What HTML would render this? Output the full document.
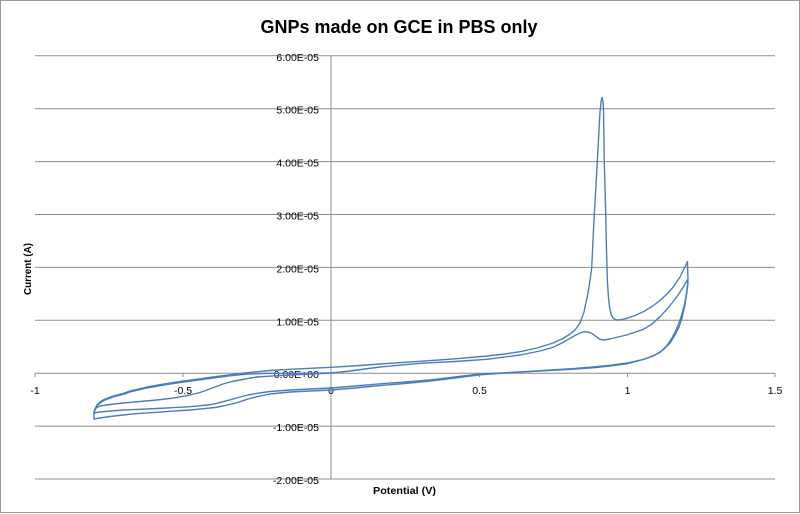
<!DOCTYPE html>
<html>
<head>
<meta charset="utf-8">
<style>
html,body{margin:0;padding:0;background:#fff;}
svg{display:block;}
text{font-family:"Liberation Sans",Arial,sans-serif;fill:#000;}
</style>
</head>
<body>
<svg width="800" height="514" viewBox="0 0 800 514" xmlns="http://www.w3.org/2000/svg">
<rect x="0" y="0" width="800" height="514" fill="#fff"/>
<rect x="0.5" y="0.5" width="799" height="512" fill="none" stroke="#9a9a9a" stroke-width="1"/>

<!-- title -->
<text x="399" y="33" font-size="18.5" font-weight="bold" text-anchor="middle" textLength="277" lengthAdjust="spacingAndGlyphs">GNPs made on GCE in PBS only</text>

<!-- gridlines -->
<g stroke="#8c8c8c" stroke-width="1">
<line x1="35" y1="55.8" x2="775" y2="55.8"/>
<line x1="35" y1="108.7" x2="775" y2="108.7"/>
<line x1="35" y1="161.6" x2="775" y2="161.6"/>
<line x1="35" y1="214.5" x2="775" y2="214.5"/>
<line x1="35" y1="267.4" x2="775" y2="267.4"/>
<line x1="35" y1="320.3" x2="775" y2="320.3"/>
<line x1="35" y1="373.2" x2="775" y2="373.2"/>
<line x1="35" y1="426.1" x2="775" y2="426.1"/>
<line x1="35" y1="479.0" x2="775" y2="479.0"/>
<!-- y axis -->
<line x1="331" y1="55.8" x2="331" y2="479"/>
<!-- x ticks -->
<line x1="35" y1="373.2" x2="35" y2="377"/>
<line x1="183" y1="373.2" x2="183" y2="377"/>
<line x1="331" y1="373.2" x2="331" y2="377"/>
<line x1="479.5" y1="373.2" x2="479.5" y2="377"/>
<line x1="627.5" y1="373.2" x2="627.5" y2="377"/>
<line x1="775" y1="373.2" x2="775" y2="377"/>
</g>

<!-- y tick labels -->
<g font-size="10.5" text-anchor="end">
<text x="319" y="60.8">6.00E-05</text>
<text x="319" y="113.7">5.00E-05</text>
<text x="319" y="166.6">4.00E-05</text>
<text x="319" y="219.5">3.00E-05</text>
<text x="319" y="272.4">2.00E-05</text>
<text x="319" y="325.3">1.00E-05</text>
<text x="319" y="378.2">0.00E+00</text>
<text x="319" y="431.1">-1.00E-05</text>
<text x="319" y="484.0">-2.00E-05</text>
</g>

<!-- x tick labels -->
<g font-size="10.5" text-anchor="middle">
<text x="35" y="394">-1</text>
<text x="183" y="394">-0.5</text>
<text x="331" y="394">0</text>
<text x="479.5" y="394">0.5</text>
<text x="627.5" y="394">1</text>
<text x="775" y="394">1.5</text>
</g>

<!-- axis titles -->
<text x="404.5" y="494" font-size="10.5" font-weight="bold" text-anchor="middle" textLength="63" lengthAdjust="spacingAndGlyphs">Potential (V)</text>
<text transform="translate(31,269) rotate(-90)" x="0" y="0" font-size="10.5" font-weight="bold" text-anchor="middle" textLength="52" lengthAdjust="spacingAndGlyphs">Current (A)</text>

<!-- series -->
<g fill="none" stroke="#4a7ebb" stroke-width="1.4" stroke-linejoin="round" stroke-linecap="round">
<!-- A1 upper with big peak -->
<polyline points="94,413 95,409 97,405 100,402 104,399.5 113,396 123,393.5 130,391 147,387 165,383.8 180,381.5 200,378.8 213,377 230,374.8 247,372.7 270,370.5 290,369.3 310,368.3 331,367.3 360,365.5 390,363.3 420,361.3 455,358.8 487,356 505,354 520,351.7 537,348 553,343 563,338.5 570,334 575,330 580,323 584,312 588,293 590,280 591.7,268 593,240 594.3,214 596,185 597.3,162 599,130 600,112 601,102 602,97.3 603,102 603.5,110 604.3,162 605.7,214 606.5,250 607,268 607.5,283 608.5,298 609.5,307 611,314 613.3,318.3 616,319.8 618.3,320 622,319.5 626.7,318.3 635,315.5 643.3,311.7 652,306.5 660,300.5 667,294 673.3,287 680,277 687.5,261.7"/>
<!-- C1 -->
<polyline points="687.5,261.7 688,280 687,290 685,302 682,314 679,323 676,330 672,338 667,345.5 660,352.5 652,356.5 643,359.5 627,363 610,365.3 593,367 575,368.5 553,369.8 530,371.3 505,372.8 480,374 455,377 430,380 405,382 380,383.8 355,386 331,388 310,389 290,390 270,391.5 257,393.3 248,395 240,397 232,399.3 223,401.7 215,403.8 207,405 190,406.7 170,407.8 157,408.5 140,409.3 123,410 110,411 100,412 94,413"/>
<!-- A2 middle with small bump -->
<polyline points="94,419 94,411 96,408 100,406 110,404.5 123,403 140,401.5 157,400 175,397.8 190,395 200,392.5 207,390 215,387 223,384 232,381.5 240,380 250,378 257,377 275,375.8 290,375 310,374 331,373 350,371 380,367 420,363.3 455,361.5 487,359.3 520,355 540,351 553,347.3 563,342.5 570,338.3 576,335 581,332.5 585.5,331.7 589,332.3 592,333.5 596,336.5 600,339.3 604,340 610,339 618,337 626.7,335 643.3,329.3 652,324 660,316.7 668,308 676.7,297 682,289 687.5,280"/>
<!-- A3 duplicate upper -->
<polyline points="94,414 95,410 97,406 100,403 104,400.5 113,397 123,394.5 130,392 147,388 165,384.8 180,382.5 200,379.8 213,378 230,375.8 247,374 270,373.3 290,373.3 310,373.2 331,373"/>
<!-- C2 -->
<polyline points="687.5,280 688,283 686.5,295 684.5,307 682,318 679,327 675,335 670,343 663,350 655,355 645,359 627,363.8 610,366 593,367.8 575,369 553,370.3 530,371.6 505,373 480,374.8 455,378 430,381 405,383.5 380,385.5 355,388 331,390 310,391 290,392 270,394 257,396.7 248,399 240,401.7 232,404 223,406 215,407.5 207,408.3 190,410 170,411.3 157,412.3 140,413.3 123,415 110,416.5 100,418 94,419"/>
</g>
</svg>
</body>
</html>
